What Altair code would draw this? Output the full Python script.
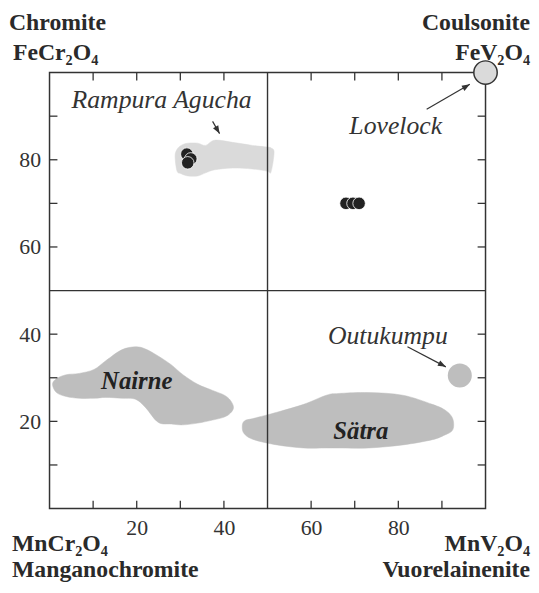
import altair as alt
import pandas as pd
import numpy as np

# ---------------- data ----------------
tick_labels = [20, 40, 60, 80]
minor_ticks = [10, 20, 30, 40, 60, 70, 80, 90]
divider = [50]

# Rampura Agucha field (light grey)
rampura_x = [28.8, 29.25, 30.2, 31.7, 34.0, 35.8, 37.9, 41.95, 46.5, 49.9, 50.8, 51.5]
rampura_top = [80.8, 82.4, 83.3, 83.8, 83.8, 83.3, 84.5, 84.0, 83.3, 82.9, 82.7, 81.7]
rampura_bot = [79.0, 77.4, 76.8, 76.3, 76.3, 77.0, 77.7, 78.1, 77.9, 77.4, 77.2, 78.1]

# Nairne field
nairne_x = [0.68, 1.6, 3.85, 6.8, 10.2, 12.9, 16.55, 19.7, 22.0, 24.9, 27.9, 30.6, 34.0, 37.4, 40.1, 41.5, 42.2]
nairne_top = [28.5, 29.8, 30.7, 31.0, 31.9, 33.9, 36.4, 37.1, 36.6, 35.0, 33.0, 30.7, 28.5, 27.1, 26.0, 24.8, 23.2]
nairne_bot = [28.0, 26.6, 25.7, 25.3, 25.3, 25.5, 25.3, 25.1, 23.2, 19.8, 19.4, 19.2, 19.6, 20.3, 21.0, 21.9, 23.2]

# Sätra field
satra_x = [44.2, 44.7, 46.9, 52.2, 58.3, 63.5, 66.4, 73.2, 81.0, 87.8, 90.7, 92.3, 92.7]
satra_top = [18.7, 20.1, 20.7, 22.1, 23.9, 26.0, 26.4, 26.6, 26.0, 23.9, 22.6, 21.0, 19.2]
satra_bot = [18.5, 17.1, 15.8, 14.6, 13.9, 13.9, 13.9, 13.9, 14.6, 15.8, 16.9, 17.8, 18.9]

# analyses (black dots)
rampura_pts_x = [31.5, 32.4, 31.7]
rampura_pts_y = [81.3, 80.2, 79.3]
other_pts_x = [68.0, 69.6, 71.0]
other_pts_y = [70.0, 70.0, 70.0]

# single-occurrence fields
lovelock_x, lovelock_y = [100.0], [100.0]
outukumpu_x, outukumpu_y = [94.1], [30.5]

# annotation labels
label_text = ["Rampura Agucha", "Lovelock", "Outukumpu"]
label_x = [25.7, 79.4, 77.6]
label_y = [91.95, 86.0, 37.8]

field_text = ["Nairne", "Sätra"]
field_x = [20.0, 71.4]
field_y = [27.4, 16.05]

# arrows (start -> end)
arrow_x = [37.4, 86.5, 82.1]
arrow_y = [88.8, 91.6, 37.1]
arrow_x2 = [39.0, 96.4, 90.9]
arrow_y2 = [86.0, 97.3, 32.5]

# ---------------- style ----------------
W, H = 441, 441
INK = "#333333"
SERIF = "Liberation Serif"
LIGHT = "#dadada"
MID = "#bebebe"

XS = alt.Scale(domain=[0, 100], nice=False, zero=False)
YS = alt.Scale(domain=[0, 100], nice=False, zero=False)
X_AXIS = alt.Axis(values=tick_labels, title=None, ticks=False, domain=False, grid=False,
                  labelFont=SERIF, labelFontSize=22, labelColor=INK, labelPadding=9)
Y_AXIS = alt.Axis(values=tick_labels, title=None, ticks=False, domain=False, grid=False,
                  labelFont=SERIF, labelFontSize=22, labelColor=INK, labelPadding=9)


def X(f):
    return alt.X(f, type="quantitative", scale=XS, axis=X_AXIS)


def Y(f):
    return alt.Y(f, type="quantitative", scale=YS, axis=Y_AXIS)


def blob(xs, top, bot, color):
    # closed outline: upper edge left->right, then lower edge right->left
    ox = list(xs) + list(xs[::-1])[1:-1]
    oy = list(top) + list(bot[::-1])[1:-1]
    df = pd.DataFrame({"x": ox, "y": oy, "i": range(len(ox))})
    return alt.Chart(df).mark_line(interpolate="cardinal-closed", filled=True, fill=color,
                                   stroke=color, strokeWidth=0.5, opacity=1).encode(
        x=X("x"), y=Y("y"), order=alt.Order("i:Q"))


layers = []
layers.append(blob(rampura_x, rampura_top, rampura_bot, LIGHT))
layers.append(blob(nairne_x, nairne_top, nairne_bot, MID))
layers.append(blob(satra_x, satra_top, satra_bot, MID))

# dividing lines
div_df = pd.DataFrame({"v": divider})
layers.append(alt.Chart(div_df).mark_rule(color=INK, strokeWidth=1.4).encode(x=X("v")))
layers.append(alt.Chart(div_df).mark_rule(color=INK, strokeWidth=1.4).encode(y=Y("v")))

# inward ticks on all four sides
tk = pd.DataFrame({"v": minor_ticks})
tick_style = dict(color=INK, strokeWidth=1.3)
layers.append(alt.Chart(tk).mark_rule(**tick_style).encode(x=X("v"), y=alt.value(0), y2=alt.value(8)))
layers.append(alt.Chart(tk).mark_rule(**tick_style).encode(x=X("v"), y=alt.value(H - 8), y2=alt.value(H)))
layers.append(alt.Chart(tk).mark_rule(**tick_style).encode(y=Y("v"), x=alt.value(0), x2=alt.value(8)))
layers.append(alt.Chart(tk).mark_rule(**tick_style).encode(y=Y("v"), x=alt.value(W - 8), x2=alt.value(W)))

# Outukumpu and Lovelock
layers.append(alt.Chart(pd.DataFrame({"x": outukumpu_x, "y": outukumpu_y})).mark_circle(
    size=590, color=MID, opacity=1).encode(x=X("x"), y=Y("y")))
layers.append(alt.Chart(pd.DataFrame({"x": lovelock_x, "y": lovelock_y})).mark_circle(
    size=560, color=LIGHT, opacity=1, stroke=INK, strokeWidth=1.5).encode(x=X("x"), y=Y("y")))

# black analyses
pts = pd.DataFrame({"x": rampura_pts_x + other_pts_x, "y": rampura_pts_y + other_pts_y})
layers.append(alt.Chart(pts).mark_circle(size=160, color="#222222", opacity=1,
                                         stroke="white", strokeWidth=0.8).encode(x=X("x"), y=Y("y")))

# arrows
arr = pd.DataFrame({"x": arrow_x, "y": arrow_y, "x2": arrow_x2, "y2": arrow_y2})
arr["angle"] = (np.degrees(np.arctan2(-(arr["y2"] - arr["y"]), arr["x2"] - arr["x"])) + 360) % 360
layers.append(alt.Chart(arr).mark_rule(color=INK, strokeWidth=1.2).encode(
    x=X("x"), y=Y("y"), x2="x2", y2="y2"))
layers.append(alt.Chart(arr).mark_point(shape="M0,0L-1,-0.38L-1,0.38Z", filled=True, size=256,
                                        color=INK, opacity=1).encode(
    x=X("x2"), y=Y("y2"), angle=alt.Angle("angle:Q", scale=None)))

# italic labels
lab = pd.DataFrame({"x": label_x, "y": label_y, "t": label_text})
layers.append(alt.Chart(lab).mark_text(font=SERIF, fontStyle="italic", fontSize=26, color=INK,
                                       align="center", baseline="alphabetic").encode(
    x=X("x"), y=Y("y"), text="t"))

fl = pd.DataFrame({"x": field_x, "y": field_y, "t": field_text})
layers.append(alt.Chart(fl).mark_text(font=SERIF, fontStyle="italic", fontWeight="bold", fontSize=25,
                                      color="#222222", align="center", baseline="alphabetic").encode(
    x=X("x"), y=Y("y"), text="t"))

# end-member labels at the corners
corners = [
    ("Chromite", 0, 100, -41, -43, "left"),
    ("FeCr₂O₄", 0, 100, -37, -13, "left"),
    ("Coulsonite", 100, 100, 45, -43, "right"),
    ("FeV₂O₄", 100, 100, 45, -13, "right"),
    ("MnCr₂O₄", 0, 0, -38, 43, "left"),
    ("Manganochromite", 0, 0, -38, 69, "left"),
    ("MnV₂O₄", 100, 0, 45, 43, "right"),
    ("Vuorelainenite", 100, 0, 45, 69, "right"),
]
for txt, cx, cy, dx, dy, al in corners:
    cdf = pd.DataFrame({"x": [cx], "y": [cy], "t": [txt]})
    layers.append(alt.Chart(cdf).mark_text(font=SERIF, fontWeight="bold", fontSize=24, color="#2a2a2a",
                                           align=al, baseline="alphabetic", dx=dx, dy=dy).encode(
        x=X("x"), y=Y("y"), text="t"))

chart = alt.layer(*layers).properties(
    width=W, height=H,
    autosize=alt.AutoSizeParams(type="none"),
    padding={"left": 42, "top": 62, "right": 46, "bottom": 74},
).configure_view(stroke=INK, strokeWidth=1.5)

chart.save("out.html", embed_options={"renderer": "svg", "actions": False})
